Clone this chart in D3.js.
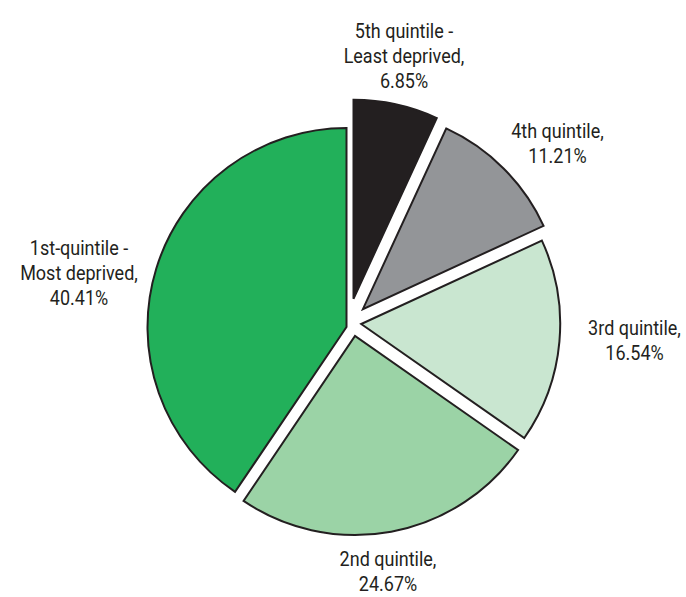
<!DOCTYPE html>
<html>
<head>
<meta charset="utf-8">
<script src="https://cdn.jsdelivr.net/npm/d3@7"></script>
<style>
  html, body { margin: 0; padding: 0; background: #ffffff; }
  svg { display: block; }
  text { font-family: "Roboto", "Liberation Sans", sans-serif; fill: #231f20; }
</style>
</head>
<body>
<div id="chart"></div>
<script>
// ---- data ----
const categories = ["5th quintile - Least deprived", "4th quintile", "3rd quintile", "2nd quintile", "1st-quintile - Most deprived"];
const values = [6.85, 11.21, 16.54, 24.67, 40.41];
const labelLines = [
  ["5th quintile -", "Least deprived,", "6.85%"],
  ["4th quintile,", "11.21%"],
  ["3rd quintile,", "16.54%"],
  ["2nd quintile,", "24.67%"],
  ["1st-quintile -", "Most deprived,", "40.41%"]
];

// ---- layout / style ----
const W = 686, H = 597;
const cx = 346.5, cy = 327, R = 199;
const colors = ["#231f20", "#939598", "#c9e6d0", "#9bd3a6", "#22b05a"];
const explode = [[7, -28.2], [16.4, -17.8], [14.7, -3], [8.5, 9], [0, 0]];
const labelAnchor = [[404, 38], [557.5, 138], [634.5, 335], [388, 566], [79, 255]];
const lineH = 25;
const fontSize = 20;
const squeeze = 0.9;

const svg = d3.select("#chart").append("svg")
  .attr("width", W).attr("height", H);

const pie = d3.pie().sort(null).startAngle(0).endAngle(2 * Math.PI).value(d => d.v);
const arc = d3.arc().innerRadius(0).outerRadius(R);

const data = categories.map((c, i) => ({ c, v: values[i], i }));
const arcs = pie(data);

const g = svg.append("g").attr("transform", `translate(${cx},${cy})`);

g.selectAll("path.slice")
  .data(arcs)
  .join("path")
  .attr("class", "slice")
  .attr("transform", d => `translate(${explode[d.data.i][0]},${explode[d.data.i][1]})`)
  .attr("d", arc)
  .attr("fill", d => colors[d.data.i])
  .attr("stroke", "#231f20")
  .attr("stroke-width", 2)
  .attr("stroke-linejoin", "miter");

const labels = svg.selectAll("text.lbl")
  .data(arcs)
  .join("text")
  .attr("class", "lbl")
  .attr("text-anchor", "middle")
  .attr("font-size", fontSize)
  .attr("transform", d => `translate(${labelAnchor[d.data.i][0]},${labelAnchor[d.data.i][1]}) scale(${squeeze},1)`);

labels.selectAll("tspan")
  .data(d => labelLines[d.data.i].map((t, k) => ({ t, k, i: d.data.i })))
  .join("tspan")
  .attr("x", 0)
  .attr("y", d => d.k * lineH)
  .text(d => d.t);
</script>
</body>
</html>
